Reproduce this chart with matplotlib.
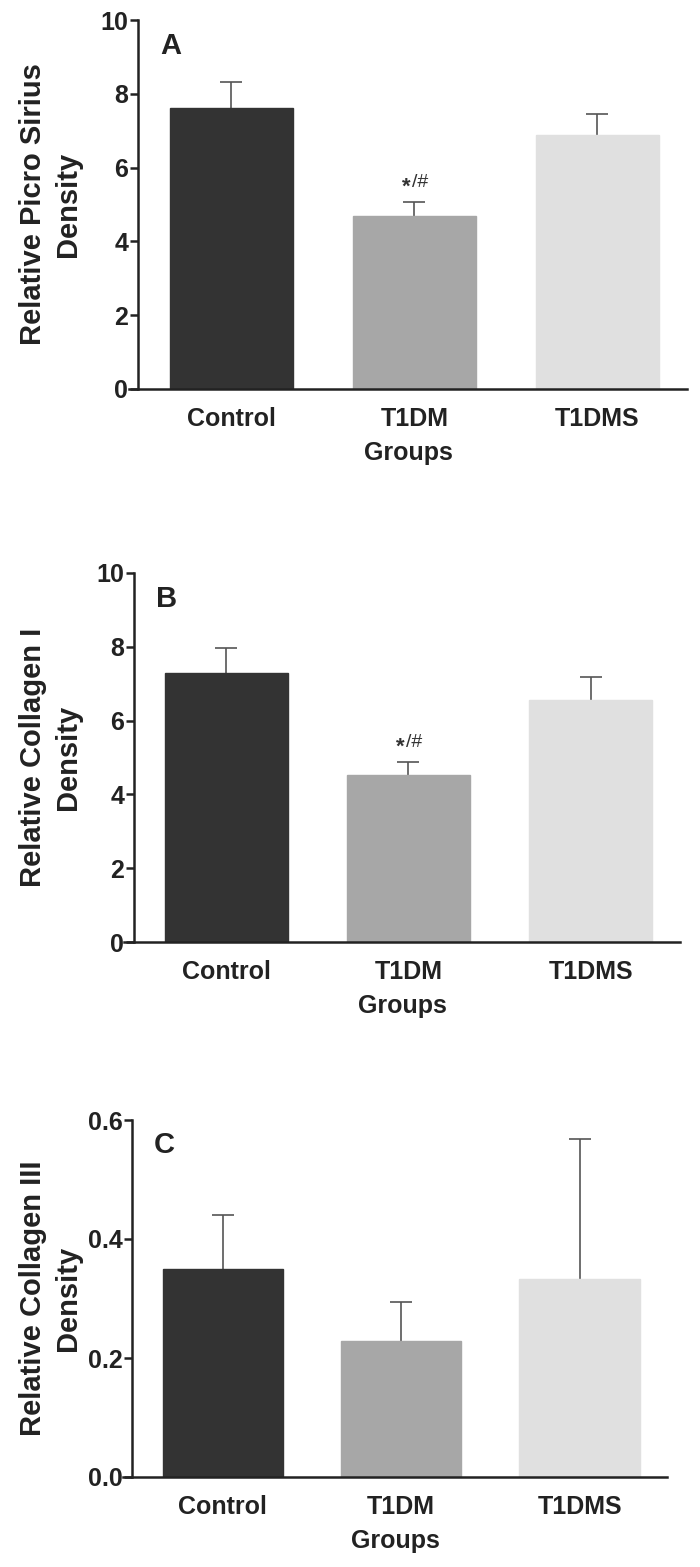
import matplotlib
matplotlib.use("Agg")
import matplotlib.pyplot as plt

groups = ["Control", "T1DM", "T1DMS"]
colors = ["#333333", "#a7a7a7", "#e0e0e0"]

picro_mean = [7.62, 4.69, 6.87]
picro_err = [0.71, 0.37, 0.57]

col1_mean = [7.29, 4.52, 6.56]
col1_err = [0.69, 0.35, 0.63]

col3_mean = [0.349, 0.228, 0.332]
col3_err = [0.092, 0.066, 0.236]

panel_labels = ["A", "B", "C"]
ylabels = ["Relative Picro Sirius\nDensity", "Relative Collagen I\nDensity", "Relative Collagen III\nDensity"]
yticks_list = [[0, 2, 4, 6, 8, 10], [0, 2, 4, 6, 8, 10], [0.0, 0.2, 0.4, 0.6]]
ytick_labels = [["0", "2", "4", "6", "8", "10"], ["0", "2", "4", "6", "8", "10"], ["0.0", "0.2", "0.4", "0.6"]]
ylims = [(0, 10), (0, 10), (0, 0.6)]
sig_marks = [[None, "*/#", None], [None, "*/#", None], [None, None, None]]

FONT = ["Liberation Sans", "DejaVu Sans"]

W, H = 700, 1567
fig = plt.figure(figsize=(W / 100, H / 100), dpi=100)

# pixel boxes: (xstart, yaxis_x, xend, top, bottom)
boxes = [(129, 138, 687, 20, 389), (124, 134, 680, 573, 942), (123, 132, 667, 1120, 1477)]
data = [(picro_mean, picro_err), (col1_mean, col1_err), (col3_mean, col3_err)]

for i, (bx, (means, errs)) in enumerate(zip(boxes, data)):
    x0, xa, x1, top, bot = bx
    ax = fig.add_axes([x0 / W, 1 - bot / H, (x1 - x0) / W, (bot - top) / H])
    xs = list(range(len(groups)))
    ax.bar(xs, means, width=0.675, color=colors, edgecolor=colors, linewidth=1, zorder=2)
    eb = ax.errorbar(xs, means, yerr=[[0] * 3, errs], fmt="none", ecolor="#555555",
                     elinewidth=1.2, capsize=8, capthick=1.2, zorder=1)
    eb[1][0].set_visible(False)
    ax.set_xlim(-0.56, 2.49)
    ax.set_ylim(*ylims[i])
    ax.spines["top"].set_visible(False)
    ax.spines["right"].set_visible(False)
    xlim_span = 2.49 + 0.56
    left_data = -0.56 + (xa - x0) / (x1 - x0) * xlim_span
    ax.spines["left"].set_position(("data", left_data))
    for s in ("left", "bottom"):
        ax.spines[s].set_linewidth(1.8)
        ax.spines[s].set_color("#222222")
    ax.set_yticks(yticks_list[i])
    ax.set_yticklabels(ytick_labels[i], family=FONT, fontweight="bold", fontsize=18, color="#222222")
    ax.tick_params(axis="y", length=6, width=1.8, pad=1, color="#222222")
    ax.set_xticks(xs)
    ax.set_xticklabels(groups, family=FONT, fontweight="bold", fontsize=18, color="#222222")
    ax.tick_params(axis="x", length=0, pad=13)
    ax.set_xlabel("Groups", family=FONT, fontweight="bold", fontsize=18, color="#222222", labelpad=7)
    ax.set_ylabel(ylabels[i], family=FONT, fontweight="bold", fontsize=21, color="#222222",
                  linespacing=1.3)
    ax.yaxis.set_label_coords((82 - x0) / (x1 - x0), 0.5)
    ax.text(left_data + 0.12, ylims[i][1] * 0.93, panel_labels[i], family=FONT, fontweight="bold",
            fontsize=21, color="#222222", va="center", ha="left")
    for j, m in enumerate(sig_marks[i]):
        if m:
            y = means[j] + errs[j]
            ax.annotate("*", (xs[j], y), xytext=(-6, 3), textcoords="offset points",
                        ha="center", va="bottom", fontsize=16, color="#333333",
                        family=FONT, fontweight="bold")
            ax.annotate("/#", (xs[j], y), xytext=(4, 8), textcoords="offset points",
                        ha="center", va="bottom", fontsize=14, color="#333333",
                        family=FONT)

fig.savefig("out.png", dpi=100)
